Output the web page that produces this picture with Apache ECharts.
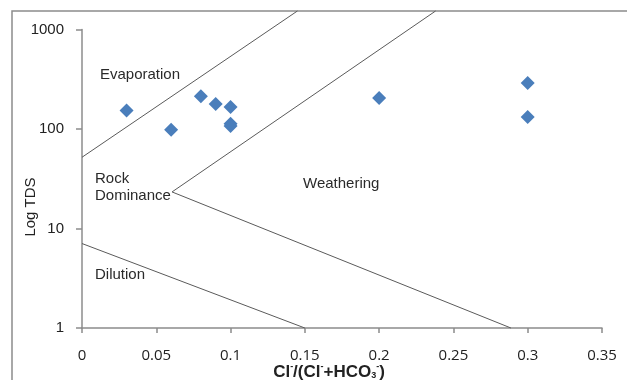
<!DOCTYPE html>
<html>
<head>
<meta charset="utf-8">
<script src="https://cdn.jsdelivr.net/npm/echarts@6/dist/echarts.min.js"></script>
<style>
    html, body { margin: 0; padding: 0; background: #fff; }
    #chart { width: 627px; height: 380px; }
</style>
</head>
<body>
<div id="chart"></div>
<script>
// sample points: Cl/(Cl+HCO3) vs TDS
var ratio = [0.03, 0.06, 0.08, 0.09, 0.1, 0.1, 0.1, 0.2, 0.3, 0.3];
var tds = [153, 98, 213, 178, 166, 113, 107, 205, 290, 132];

// boundary lines of the diagram
var evapLine = [[0, 52], [0.145, 1535]];
var weatherUpper = [[0.0606, 23.3], [0.238, 1535]];
var weatherLower = [[0.0606, 23.3], [0.2887, 1]];
var dilutionLine = [[0, 7.06], [0.15, 1]];

var xTicks = [0, 0.35, 0.05];
var yTicks = [1, 1000];

var points = ratio.map(function(r, i) { return [r, tds[i]]; });

function boundary(d) {
    return {
        type: "line",
        data: d,
        symbol: "none",
        clip: false,
        silent: true,
        lineStyle: { color: "#5a5a5a", width: 1 },
        z: 1
    };
}

var labelFont = { font: "15px Liberation Sans", fill: "#2a2a2a", verticalAlign: "middle" };

var myChart = echarts.init(document.getElementById("chart"));
var option = {
    animation: false,
    grid: { left: 82, right: 25, top: 29.5, bottom: 52, outerBoundsMode: "none" },
    xAxis: {
        type: "value",
        min: xTicks[0],
        max: xTicks[1],
        interval: xTicks[2],
        splitLine: { show: false },
        axisLine: { lineStyle: { color: "#8c8c8c", width: 1.5 } },
        axisTick: { show: true, length: 5, lineStyle: { color: "#8c8c8c", width: 1.5 } },
        axisLabel: { color: "#222", fontSize: 15, fontFamily: "Open Sans", margin: 20 }
    },
    yAxis: {
        type: "log",
        logBase: 10,
        min: yTicks[0],
        max: yTicks[1],
        splitLine: { show: false },
        axisLine: { show: true, lineStyle: { color: "#8c8c8c", width: 1.5 } },
        axisTick: { show: true, length: 6, lineStyle: { color: "#8c8c8c", width: 1.5 } },
        minorTick: { show: false },
        axisLabel: {
            color: "#222", fontSize: 15, fontFamily: "Liberation Sans", margin: 18,
            formatter: function(v) { return String(Math.round(v)); }
        }
    },
    graphic: [
        { type: "rect", shape: { x: 12, y: 11, width: 640, height: 400 }, style: { fill: "none", stroke: "#8c8c8c", lineWidth: 1.5 }, silent: true },
        { type: "text", x: 31, y: 207, rotation: Math.PI / 2, style: { text: "Log TDS", font: "15px Liberation Sans", fill: "#222", align: "center", verticalAlign: "middle" } },
        {
            type: "text", x: 329, y: 372,
            style: {
                text: "{b|Cl}{s|-}{b|/(Cl}{s|-}{b|+HCO}{u|3}{s|-}{b|)}",
                align: "center", verticalAlign: "middle",
                rich: {
                    b: { font: "bold 17px Liberation Sans", fill: "#222" },
                    s: { font: "bold 9px Liberation Sans", fill: "#222", padding: [0, 0, 10, 0] },
                    u: { font: "bold 9px Liberation Sans", fill: "#222", padding: [8, 0, 0, 0] }
                }
            }
        },
        { type: "text", x: 100, y: 75, style: Object.assign({ text: "Evaporation" }, labelFont) },
        { type: "text", x: 95, y: 179, style: Object.assign({ text: "Rock" }, labelFont) },
        { type: "text", x: 95, y: 196, style: Object.assign({ text: "Dominance" }, labelFont) },
        { type: "text", x: 303, y: 184, style: Object.assign({ text: "Weathering" }, labelFont) },
        { type: "text", x: 95, y: 275, style: Object.assign({ text: "Dilution" }, labelFont) }
    ],
    series: [
        boundary(evapLine),
        boundary(weatherUpper),
        boundary(weatherLower),
        boundary(dilutionLine),
        {
            type: "scatter",
            data: points,
            symbol: "diamond",
            symbolSize: 14,
            itemStyle: { color: "#4a7ebb", opacity: 1 },
            z: 3
        }
    ]
};
myChart.setOption(option);
</script>
</body>
</html>
